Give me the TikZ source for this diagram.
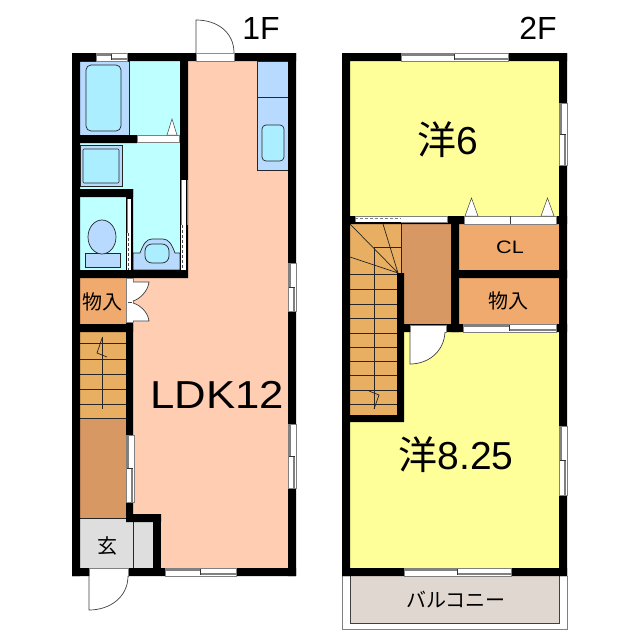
\documentclass[tikz,border=0pt]{standalone}
\usepackage{fontspec}
\setmainfont{Liberation Sans}
\newfontfamily\cjkfont{Noto Sans CJK JP}
\definecolor{ldkfill}{RGB}{255,205,178}
\definecolor{wetfill}{RGB}{190,255,255}
\definecolor{fixfill}{RGB}{184,218,255}
\definecolor{tubfill}{RGB}{170,238,255}
\definecolor{roomfill}{RGB}{255,255,153}
\definecolor{closetfill}{RGB}{240,170,110}
\definecolor{hallfill}{RGB}{216,152,100}
\definecolor{stairfill}{RGB}{232,174,98}
\definecolor{entryfill}{RGB}{222,222,222}
\definecolor{balconyfill}{RGB}{224,216,208}
\tikzset{
  wall/.style={fill=black},
  thin line/.style={draw=black!85,line width=0.7pt},
  fixture/.style={thin line,fill=fixfill},
  tub/.style={thin line,fill=tubfill,rounded corners=#1},
  opening/.style={fill=white,draw=gray,line width=0.5pt},
  leaf/.style={draw=black!75,line width=0.7pt,fill=white},
  tri mark/.style={draw=black!75,line width=0.5pt,fill=white},
  label/.style={inner sep=0pt,text=black},
}
\newcommand{\hwin}[3]{%
  \fill[white] (#1,#3) rectangle (#2,#3+8);
  \draw[gray,line width=0.6pt] (#1,#3) rectangle (#2,#3+8);
  \draw[gray,line width=1.2pt] (#1,#3+2) -- ({(#1+#2)/2},#3+2);
  \draw[gray,line width=1.2pt] ({(#1+#2)/2},#3+6) -- (#2,#3+6);
  \draw[black!80,line width=0.6pt] ({(#1+#2)/2},#3+1) -- ({(#1+#2)/2},#3+7);
}
\newcommand{\vwin}[3]{%
  \fill[white] (#1,#2) rectangle (#1+8,#3);
  \draw[gray,line width=0.6pt] (#1,#2) rectangle (#1+8,#3);
  \draw[gray,line width=1.2pt] (#1+2,#2) -- (#1+2,{(#2+#3)/2});
  \draw[gray,line width=1.2pt] (#1+6,{(#2+#3)/2}) -- (#1+6,#3);
  \draw[black!80,line width=0.6pt] (#1+1,{(#2+#3)/2}) -- (#1+7,{(#2+#3)/2});
}
\begin{document}
\begin{tikzpicture}[x=1pt,y=-1pt]
  \useasboundingbox (0,0) rectangle (640,640);
  \fill[white] (0,0) rectangle (640,640);

  \fill[ldkfill] (133,61) rectangle (288,568);
  \fill[wetfill] (79,61) rectangle (180,270);
  \fill[closetfill] (79,278) rectangle (126,324);
  \fill[stairfill] (79,332) rectangle (126,418);
  \fill[hallfill] (79,418) rectangle (126,518);
  \fill[entryfill] (79,518) rectangle (153,568);
  \draw[thin line] (79,418) -- (126,418) (79,518) -- (133,518);
  \draw[thin line] (133,522) -- (133,568);

  \fill[fixture] (79,61) rectangle (129,135);
  \draw[tub=5pt] (86,65) rectangle (121,131);
  \draw[fixture] (80,145) rectangle (122,186);
  \draw[tub=1pt] (83,149) rectangle (119,183);
  \draw[fixture] (257,61) rectangle (288,97);
  \draw[fixture] (257,97) rectangle (288,170);
  \draw[tub=4pt] (262,125) rectangle (284,161);
  \draw[fixture] (85,253) rectangle (120,267);
  \draw[fixture] (102,237) ellipse (14 and 17);
  \draw[fixture] (133,270) -- (133,253) -- (140,253) .. controls (143,245) and (146,239) .. (152,239) -- (163,239) .. controls (169,239) and (172,245) .. (175,253) -- (180,253) -- (180,270) -- cycle;
  \draw[tub=7pt] (145,244) rectangle (169,263);

  \foreach \stepy in {343,359,374,389,404}
    \draw[thin line] (79,\stepy) -- (126,\stepy);
  \draw[thin line] (102.5,337) -- (102.5,409);
  \draw[thin line] (102.5,337) -- (97,353) -- (107,357);

  \fill[wall] (72,53) rectangle (296,61) (72,568) rectangle (161,576) (161,568) rectangle (296,576);
  \fill[wall] (72,53) rectangle (80,576) (288,53) rectangle (296,576);
  \fill[wall] (180,53) rectangle (188,278) (72,270) rectangle (188,278);
  \fill[wall] (72,135) rectangle (137,143) (72,189) rectangle (133,197);
  \fill[wall] (126,189) rectangle (133,278) (72,324) rectangle (133,332);
  \fill[wall] (126,322) rectangle (133,522) (126,514) rectangle (161,522);
  \fill[wall] (153,514) rectangle (161,576);

  \hwin{96}{127}{53}
  \hwin{165}{236}{568}
  \vwin{288}{263}{311}
  \vwin{288}{424}{488}
  \vwin{126}{435}{502}
  \draw[opening] (137,135) rectangle (179,142);
  \fill[white] (181,180) rectangle (186,270);
  \draw[gray,line width=0.6pt] (181,180) -- (181,225) (187,180) -- (187,225);
  \fill[white] (127,199) rectangle (131,270);
  \draw[gray,line width=0.6pt] (127,199) -- (127,233);
  \draw[densely dashed,black!70,line width=0.8pt] (182.5,225) -- (182.5,270) (128.5,233) -- (128.5,270);
  \draw[opening] (126,278) rectangle (133,322);
  \draw[black!70,line width=0.6pt] (128,302) -- (132,302);
  \draw[opening] (196,53) rectangle (234,61);
  \draw[opening] (89,568) rectangle (128,576);

  \draw[leaf] (196,53) -- (196,20) .. controls (217,20) and (234,32) .. (234,53);
  \draw[leaf] (89,576) -- (89,610) .. controls (110,610) and (128,597) .. (128,576);
  \draw[leaf] (133,301) .. controls (140,299) and (148,291) .. (149,282) -- (133,282);
  \draw[leaf] (133,303) .. controls (140,305) and (148,312) .. (149,321) -- (133,321);
  \draw[tri mark] (167,135) -- (172,119) -- (177,135) -- cycle;

  \fill[roomfill] (350,61) rectangle (559,216);
  \fill[roomfill] (404,332) rectangle (559,422);
  \fill[roomfill] (350,422) rectangle (559,568);
  \fill[closetfill] (459,224) rectangle (559,270) (459,278) rectangle (559,324);
  \fill[hallfill] (401,224) rectangle (451,324);
  \fill[stairfill] (350,224) rectangle (401,273) (350,273) rectangle (397,415);
  \draw[thin line] (350,223) -- (401,223) -- (401,273) (404,324) -- (451,324);
  \draw[thin line] (350,224) -- (398,273) (383,224) -- (398,273) (350,257) -- (398,273);
  \draw[thin line] (374,247) -- (401,247);
  \draw[thin line] (374,247) -- (374,409);
  \foreach \stepy in {274,289,304,318,333,347,361,375,390,404}
    \draw[thin line] (350,\stepy) -- (397,\stepy);
  \draw[thin line] (374,409) -- (379,395) -- (369,391);

  \fill[balconyfill] (350,576) rectangle (559,623);
  \draw[gray,line width=0.7pt] (342,576) -- (342,629) -- (567,629) -- (567,576);
  \draw[black!75,line width=0.7pt] (350,576) -- (350,623) -- (559,623) -- (559,576);

  \fill[wall] (342,53) rectangle (567,61) (342,568) rectangle (567,576);
  \fill[wall] (342,53) rectangle (350,576) (559,53) rectangle (567,576);
  \fill[wall] (342,216) rectangle (567,224) (451,216) rectangle (459,332);
  \fill[wall] (451,270) rectangle (567,278) (404,324) rectangle (567,332);
  \fill[wall] (397,273) rectangle (404,422) (342,415) rectangle (404,422);

  \hwin{401}{508}{53}
  \hwin{404}{511}{568}
  \vwin{559}{103}{165}
  \vwin{559}{426}{495}
  \hwin{463}{556}{324}
  \draw[opening] (355,216) rectangle (447,222);
  \draw[black,line width=0.8pt] (355,222) -- (401,222);
  \draw[densely dashed,gray,line width=1.2pt] (355,218.5) -- (401,218.5);
  \draw[opening] (464,216) rectangle (556,224);
  \draw[black!75,line width=0.5pt] (510,216) -- (510,224);
  \draw[opening] (410,325) rectangle (446,332);
  \draw[leaf] (410,332) -- (410,364) .. controls (428,364) and (444,352) .. (445,332);
  \draw[tri mark] (465,216) -- (471.5,198) -- (478,216) -- cycle;
  \draw[tri mark] (541,216) -- (547.5,198) -- (554,216) -- cycle;

  \node[label,font=\fontsize{32}{32}\selectfont] (firstlabel) at (261,28) {1F};
  \node[label,font=\fontsize{32}{32}\selectfont] (secondlabel) at (538,28) {2F};
  \node[label,font=\fontsize{39}{39}\selectfont] (ldk) at (217,395) {\scalebox{1.12}[1]{LDK12}};
  \node[label,font=\fontsize{20}{20}\selectfont\cjkfont] (closetone) at (102,302) {物入};
  \node[label,font=\fontsize{20}{20}\selectfont\cjkfont] (entry) at (107,546) {玄};
  \node[label,font=\fontsize{39}{39}\selectfont] (roomsix) at (448,140) {{\cjkfont 洋}6};
  \node[label,font=\fontsize{39}{39}\selectfont] (roomeight) at (456,455) {{\cjkfont 洋}8.25};
  \node[label,font=\fontsize{18}{18}\selectfont] (cl) at (510,247) {\scalebox{1.2}[1]{CL}};
  \node[label,font=\fontsize{20}{20}\selectfont\cjkfont] (closettwo) at (508,301) {物入};
  \node[label,font=\fontsize{20}{20}\selectfont\cjkfont] (balcony) at (456,600) {バルコニー};
\end{tikzpicture}
\end{document}
